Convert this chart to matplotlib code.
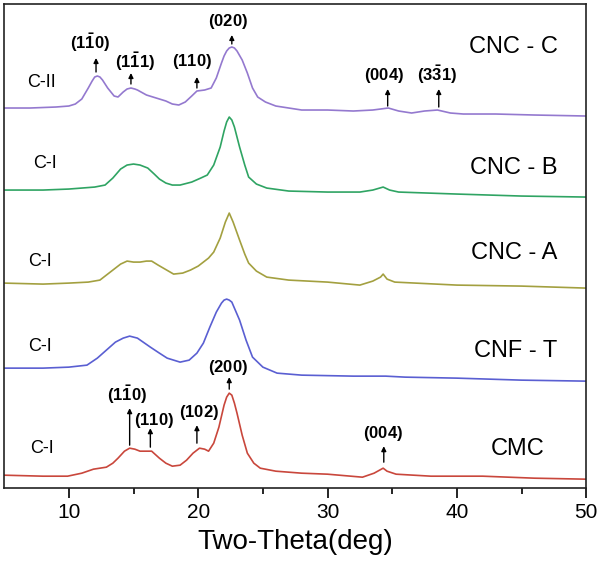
import numpy as np
import matplotlib
matplotlib.use("Agg")
import matplotlib.pyplot as plt

plt.rcParams['font.family'] = ['Liberation Sans', 'DejaVu Sans']
plt.rcParams['mathtext.fontset'] = 'custom'
plt.rcParams['mathtext.bf'] = 'Liberation Sans:bold'
plt.rcParams['mathtext.rm'] = 'Liberation Sans'

# readings: two-theta (deg) and stacked intensity (a.u., offsets included)
cncc_x = [5, 7, 9, 10, 10.5, 11, 11.5, 11.8, 12.0, 12.2, 12.4, 12.6, 13.0, 13.5, 13.8, 14.2, 14.5, 14.8,
          15.1, 15.3, 16.0, 16.5, 17.5, 18.0, 18.5, 19.0, 19.5, 19.9, 20.5, 21.0, 21.4, 21.8, 22.0,
          22.2, 22.4, 22.6, 22.8, 23.0, 23.4, 23.8, 24.2, 24.6, 25.2, 26, 27, 28, 30, 32, 33.5, 34.7,
          35.5, 36.5, 37.5, 38.5, 39.5, 40.5, 43, 46, 50]
cncc_y = [380, 380, 381, 382, 384, 389, 400, 407, 411, 412, 411, 408, 400, 392, 391, 396, 399, 400,
          399, 398, 393, 391, 387, 384, 383, 386, 392, 397, 398, 400, 410, 425, 432,
          437, 440, 441, 440, 437, 428, 415, 400, 391, 386, 382, 380, 378, 378, 377, 378, 380,
          377, 375, 377, 378, 375, 374, 374, 373, 372]

cncb_x = [5, 8, 10, 11, 12, 12.8, 13.4, 14.0, 14.5, 15.0, 15.5, 16.1, 16.6, 17.0, 17.5, 18.0, 18.6,
          19.5, 20.2, 20.7, 21.2, 21.7, 22.0, 22.2, 22.4, 22.6, 22.8, 23.2, 23.6, 23.9, 24.5, 25.3,
          27, 30, 32.5, 33.5, 34.3, 34.8, 35.5, 40, 45, 50]
cncb_y = [298, 298, 299, 300, 301, 303, 310, 319, 323, 324, 323, 320, 314, 309, 305, 303, 303,
          306, 310, 313, 323, 341, 357, 366, 371, 368, 361, 341, 323, 311, 304, 300,
          297, 296, 296, 298, 301, 298, 296, 294, 292, 291]

cnca_x = [5, 8, 10, 11.5, 12.4, 13, 13.4, 14.0, 14.5, 15.0, 15.5, 16.0, 16.4, 16.9, 17.3, 18.1, 18.8,
          19.4, 20.0, 20.8, 21.2, 21.7, 22.1, 22.4, 22.7, 23.2, 23.6, 23.9, 24.5, 25.3, 27, 30, 32.5,
          33.5, 34.1, 34.3, 34.6, 35.2, 40, 45, 50]
cnca_y = [205, 204, 205, 206, 208, 214, 218, 224, 227, 226, 226, 227, 227, 223, 220, 214, 215,
          218, 222, 230, 236, 250, 266, 275, 266, 248, 234, 225, 217, 211, 208, 206, 203,
          207, 211, 214, 209, 206, 203, 202, 200]

cnft_x = [5, 8, 10, 11.4, 12.2, 12.9, 13.6, 14.2, 14.7, 15.3, 16.3, 17.0, 17.6, 18.6, 19.3, 19.9,
          20.4, 20.9, 21.4, 21.8, 22.0, 22.2, 22.4, 22.6, 23.2, 23.7, 24.2, 25, 26.1, 28, 32, 34.5,
          36, 40, 45, 50]
cnft_y = [120, 120, 121, 123, 130, 138, 146, 150, 152, 150, 141, 135, 130, 126, 128, 135,
          145, 161, 176, 185, 188, 189, 188, 186, 168, 148, 131, 121, 115, 113, 112, 112,
          111, 110, 108, 107]

cmc_x = [5, 8, 9.9, 11.0, 11.9, 12.9, 13.4, 13.8, 14.3, 14.7, 15.1, 15.5, 16.0, 16.4, 17.0, 17.5,
         18.0, 18.6, 19.1, 19.6, 20.1, 20.5, 20.8, 21.2, 21.6, 22.0, 22.2, 22.4, 22.6, 22.8, 23.0,
         23.4, 23.8, 24.3, 24.8, 26, 28, 30, 32.7, 33.6, 34.3, 34.6, 35.3, 38, 42, 46, 50]
cmc_y = [13, 12, 12, 15, 19, 21, 25, 30, 37, 40, 39, 37, 37, 37, 30, 25,
         22, 23, 28, 35, 40, 39, 37, 45, 61, 83, 91, 95, 93, 85, 75,
         53, 35, 25, 20, 17, 15, 14, 11, 15, 20, 17, 14, 12, 12, 10, 9]

series = [
    (cncc_x, cncc_y, '#9479cf', 'CNC - C', 'C-II'),
    (cncb_x, cncb_y, '#2fa463', 'CNC - B', 'C-I'),
    (cnca_x, cnca_y, '#a3a040', 'CNC - A', 'C-I'),
    (cnft_x, cnft_y, '#5a5fd2', 'CNF - T', 'C-I'),
    (cmc_x, cmc_y, '#c9473c', 'CMC', 'C-I'),
]

# name label (x, y), phase label (x, y)
name_pos = [(47.8, 441), (47.8, 320), (47.8, 235), (47.8, 137), (46.8, 39)]
phase_pos = [(6.8, 406), (7.25, 325), (6.85, 227), (6.85, 142), (7.0, 40)]

# label, arrow x, arrow bottom, arrow top, text x, text y
peaks = [
    (r'$\mathbf{(1\bar{1}0)}$', 12.1, 416, 430, 11.6, 445),
    (r'$\mathbf{(1\bar{1}1)}$', 14.8, 404, 415, 15.1, 426),
    (r'$\mathbf{(110)}$', 19.9, 400, 411, 19.5, 426),
    (r'$\mathbf{(020)}$', 22.6, 444, 453, 22.3, 466),
    (r'$\mathbf{(004)}$', 34.65, 382, 399, 34.4, 413),
    (r'$\mathbf{(3\bar{3}1)}$', 38.6, 381, 399, 38.5, 413),
    (r'$\mathbf{(1\bar{1}0)}$', 14.7, 43, 80, 14.5, 93),
    (r'$\mathbf{(110)}$', 16.3, 41, 60, 16.6, 68),
    (r'$\mathbf{(102)}$', 19.9, 45, 63, 20.1, 76),
    (r'$\mathbf{(200)}$', 22.4, 99, 111, 22.3, 121),
    (r'$\mathbf{(004)}$', 34.35, 26, 42, 34.3, 55),
]

fig = plt.figure(figsize=(6.0, 5.67), dpi=100)
ax = fig.add_axes([0.007, 0.139, 0.970, 0.854])

for (x, y, c, name, phase), (nx, ny), (px, py) in zip(series, name_pos, phase_pos):
    ax.plot(x, y, color=c, lw=1.2)
    ax.text(nx, ny, name, fontsize=17, ha='right', va='center')
    ax.text(px, py, phase, fontsize=13, ha='left', va='center')

for lab, xa, y0, y1, xt, yt in peaks:
    ax.annotate('', xy=(xa, y1), xytext=(xa, y0),
                arrowprops=dict(arrowstyle='-|>', color='k', lw=1.0, mutation_scale=7,
                                shrinkA=0, shrinkB=0))
    ax.text(xt, yt, lab, fontsize=12, ha='center', va='center')

ax.set_xlim(5, 50)
ax.set_ylim(0, 484)
ax.set_yticks([])
ax.set_xticks([10, 20, 30, 40, 50])
ax.set_xticks([15, 25, 35, 45], minor=True)
ax.tick_params(axis='x', which='major', direction='out', length=7, width=1.2, labelsize=15, pad=4)
ax.tick_params(axis='x', which='minor', direction='out', length=4, width=1.2)
for s in ax.spines.values():
    s.set_linewidth(1.2)
    s.set_color('#222222')
ax.set_xlabel('Two-Theta(deg)', fontsize=20, labelpad=5)

fig.savefig('out.png', dpi=100)
